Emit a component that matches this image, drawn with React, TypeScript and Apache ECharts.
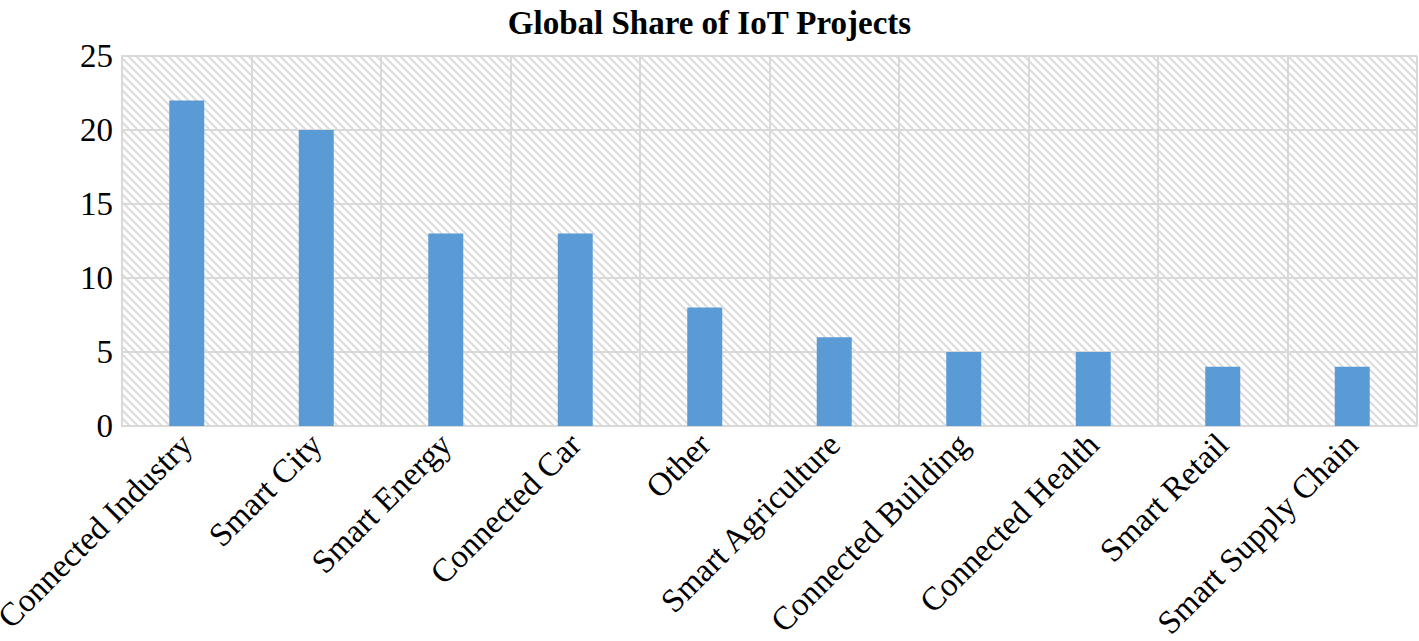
import React, { useEffect, useRef } from "react";
import * as echarts from "echarts";

const categories = [
  "Connected Industry",
  "Smart City",
  "Smart Energy",
  "Connected Car",
  "Other",
  "Smart Agriculture",
  "Connected Building",
  "Connected Health",
  "Smart Retail",
  "Smart Supply Chain",
];
const shares = [22, 20, 13, 13, 8, 6, 5, 5, 4, 4];
const yTicks = { min: 0, max: 25, interval: 5 };

const tileSvg =
  "<svg xmlns='http://www.w3.org/2000/svg' width='8' height='8'>" +
  "<rect width='8' height='8' fill='white'/>" +
  "<path d='M-1,-1 L9,9 M-1,7 L1,9 M7,-1 L9,1' stroke='%23dcdcdc' stroke-width='2'/>" +
  "</svg>";
const tileUrl = "data:image/svg+xml;utf8," + tileSvg;

export default function App() {
  const ref = useRef<HTMLDivElement>(null);
  useEffect(() => {
    if (!ref.current) return;
    const chart = echarts.init(ref.current, undefined, { renderer: "svg" });
    chart.setOption({
      animation: false,
      title: {
        text: "Global Share of IoT Projects",
        left: "center",
        top: 1,
        textStyle: {
          fontFamily: "Liberation Serif",
          fontWeight: "bold",
          fontSize: 33,
          color: "#000",
        },
      },
      grid: {
        left: 122,
        right: 2,
        top: 56,
        bottom: 215,
        show: true,
        borderWidth: 0,
        containLabel: false,
        outerBoundsMode: "none",
        backgroundColor: {
          image: tileUrl,
          repeat: "repeat",
          imageWidth: 8,
          imageHeight: 8,
        } as any,
      } as any,
      xAxis: {
        type: "category",
        data: categories,
        axisLine: { show: true, lineStyle: { color: "#d9d9d9", width: 2 } },
        axisTick: { show: false },
        splitLine: { show: true, lineStyle: { color: "#d9d9d9", width: 2 } },
        axisLabel: {
          rotate: 45,
          interval: 0,
          margin: 13,
          fontFamily: "Liberation Serif",
          fontSize: 33,
          color: "#000",
        },
      },
      yAxis: {
        type: "value",
        min: yTicks.min,
        max: yTicks.max,
        interval: yTicks.interval,
        axisLine: { show: true, lineStyle: { color: "#d9d9d9", width: 2 } },
        axisTick: { show: false },
        splitLine: { show: true, lineStyle: { color: "#d9d9d9", width: 2 } },
        axisLabel: {
          margin: 9,
          fontFamily: "Liberation Serif",
          fontSize: 33,
          color: "#000",
        },
      },
      series: [
        {
          type: "bar",
          data: shares,
          barWidth: 35,
          itemStyle: { color: "#5b9bd5" },
        },
      ],
    });
    return () => chart.dispose();
  }, []);
  return (
    <div
      ref={ref}
      style={{ position: "absolute", left: 0, top: 0, width: 1419, height: 641 }}
    />
  );
}
